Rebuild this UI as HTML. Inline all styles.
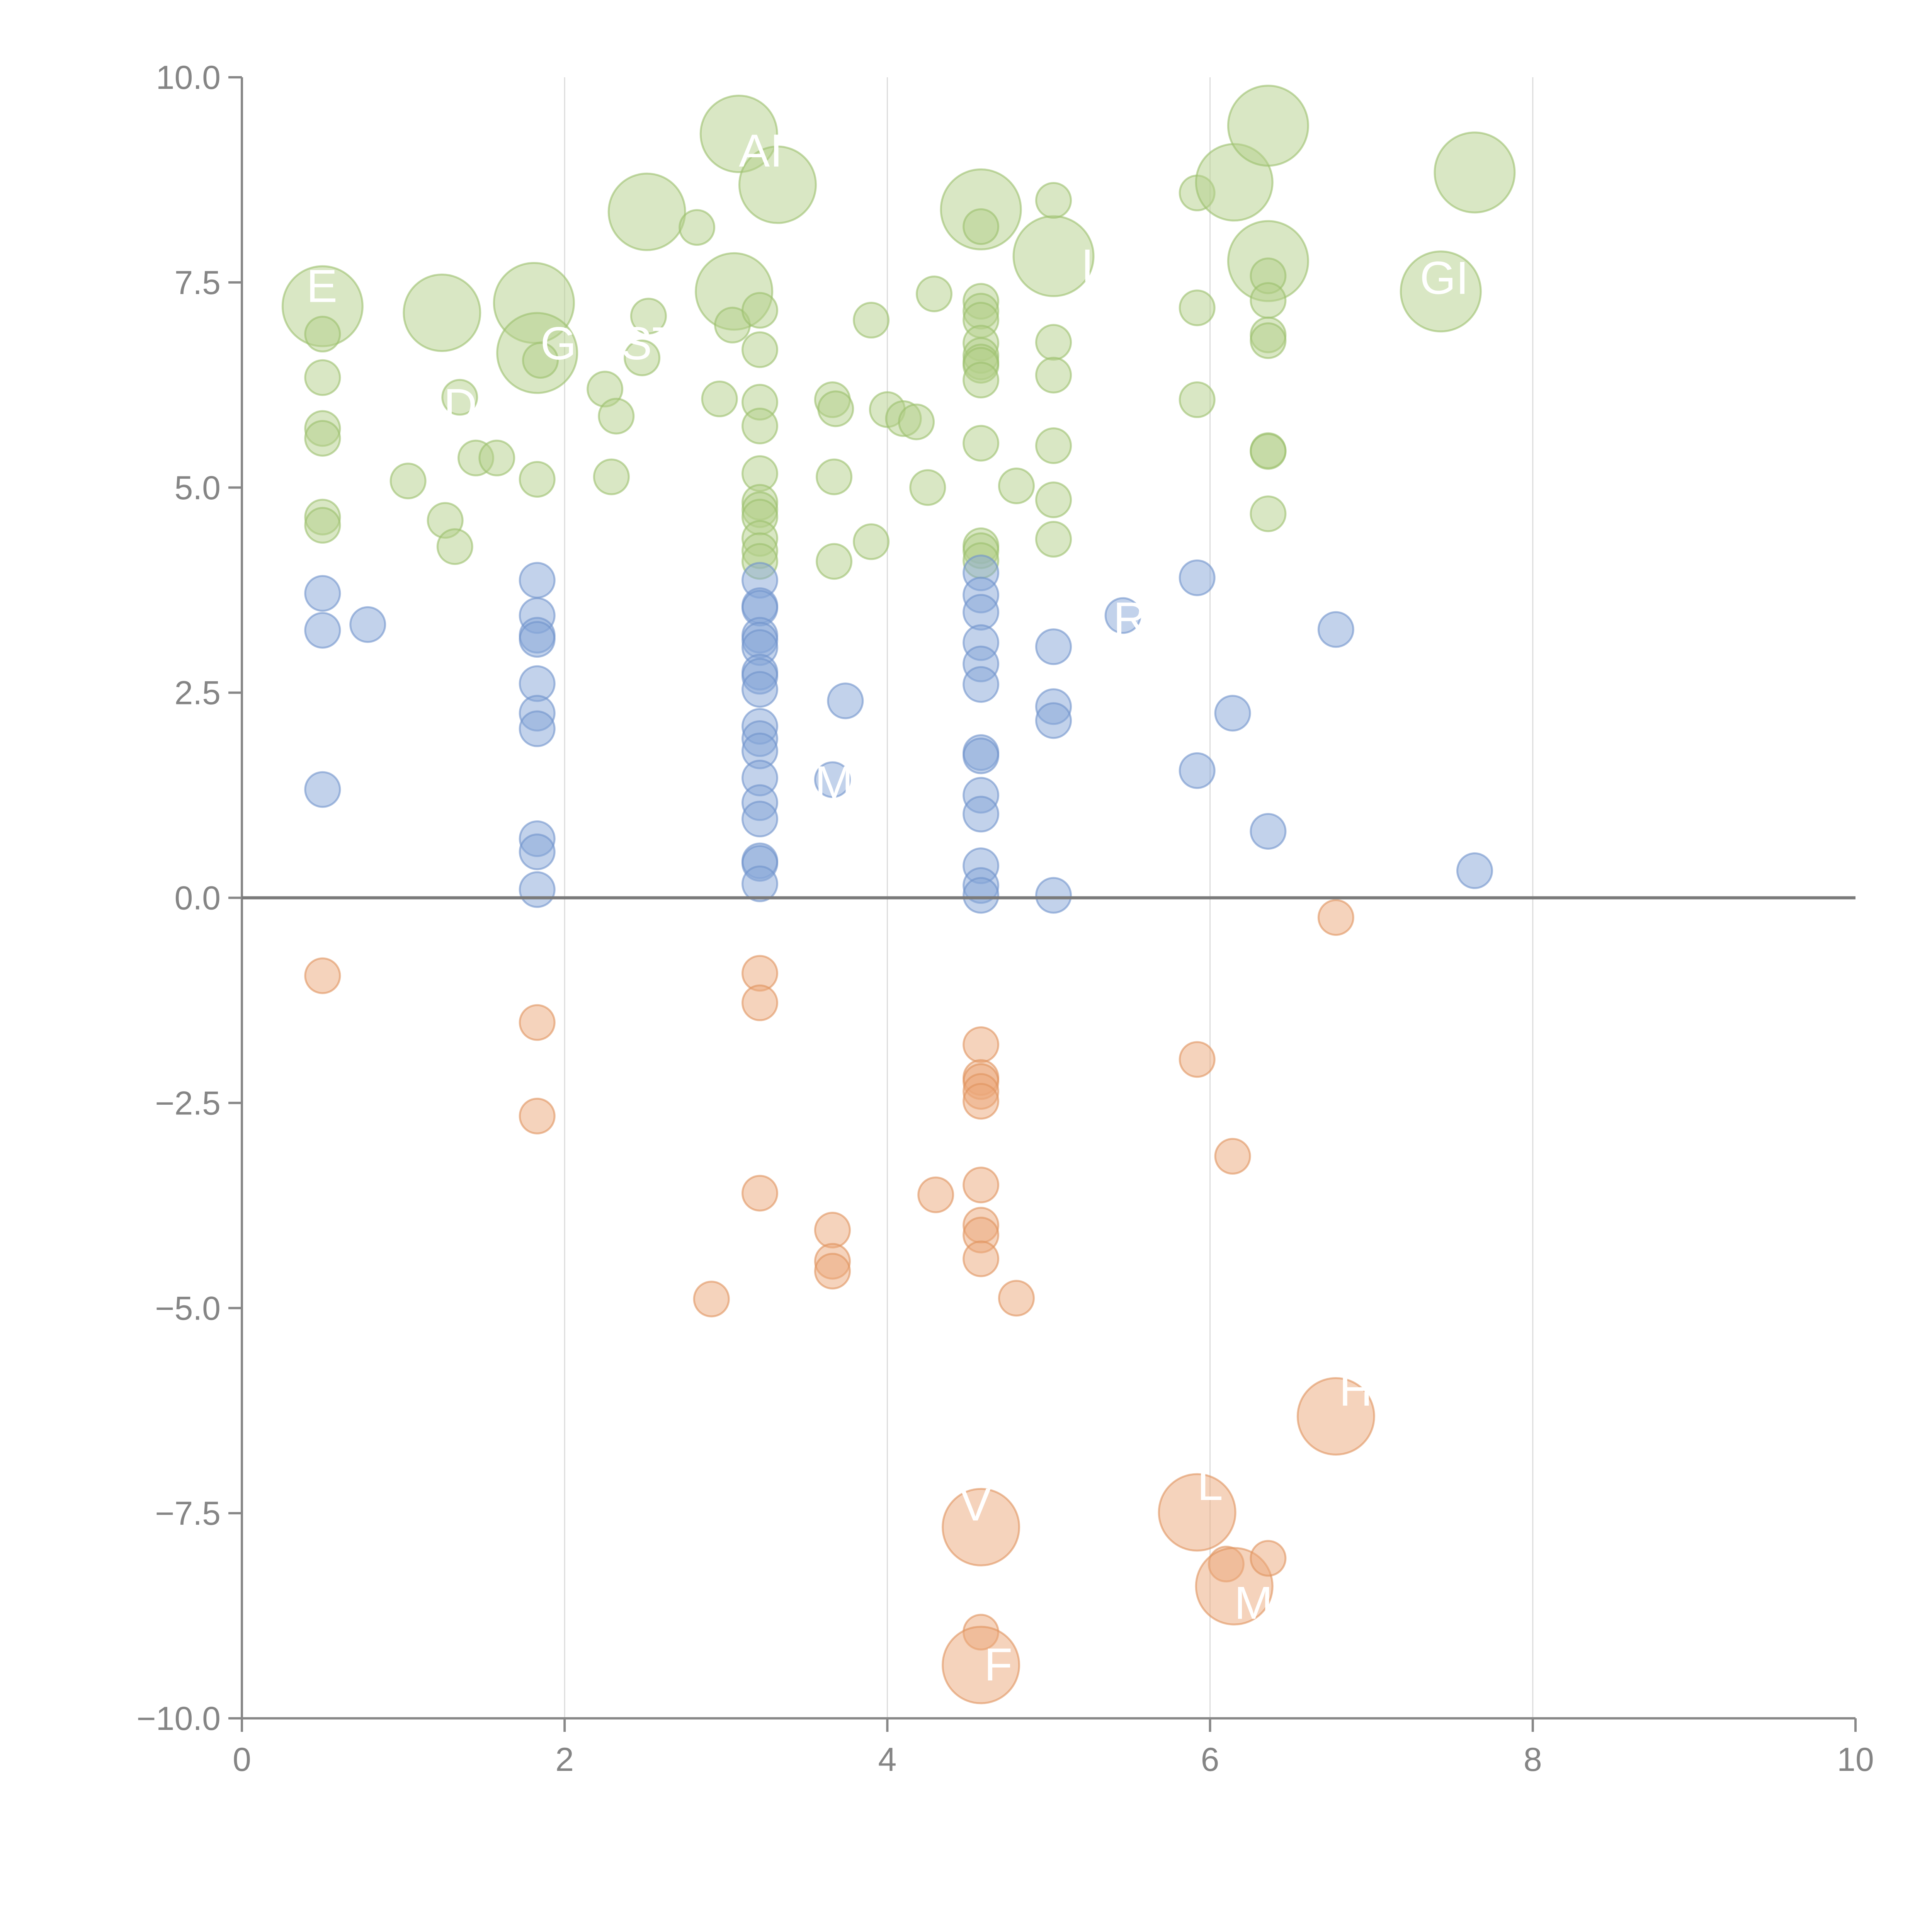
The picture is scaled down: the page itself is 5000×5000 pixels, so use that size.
<!DOCTYPE html>
<html><head><meta charset="utf-8"><style>
html,body{margin:0;padding:0;background:#fff;}
svg{display:block;font-family:"Liberation Sans",Arial,sans-serif;}
</style></head><body>
<svg id="chart" width="5000" height="5000" viewBox="0 0 5000 5000" xmlns="http://www.w3.org/2000/svg">
<g id="grid"></g>
<g id="bubbles"></g>
<g id="axes"></g>
<g id="labels"></g>
</svg>
<script>
const xTicks=[0,2,4,6,8,10];
const yTicks=[-10,-7.5,-5,-2.5,0,2.5,5,7.5,10];
const yTickLabels=["\u221210.0","\u22127.5","\u22125.0","\u22122.5","0.0","2.5","5.0","7.5","10.0"];

const greenX=[0.5,0.5,0.5,0.5,0.5,0.5,0.5,1.03,1.24,1.35,1.26,1.32,1.45,1.58,1.81,1.83,1.85,1.83,2.25,2.32,2.29,2.51,2.52,2.48,2.82,2.96,3.08,3.05,3.04,3.32,
3.21,3.21,3.21,3.21,3.21,3.21,3.21,3.21,3.21,3.21,3.21,3.66,3.68,3.67,3.67,3.9,3.9,4.0,4.1,4.18,4.25,4.29,
4.58,4.58,4.58,4.58,4.58,4.58,4.58,4.58,4.58,4.58,4.58,4.58,4.58,4.58,4.8,
5.03,5.03,5.03,5.03,5.03,5.03,5.03,5.92,5.92,5.92,6.15,6.36,6.36,6.36,6.36,6.36,6.36,6.36,6.36,6.36,7.43,7.64];
const greenY=[7.21,6.87,6.34,5.72,5.6,4.64,4.54,5.08,7.13,6.1,4.6,4.28,5.36,5.36,7.25,6.64,6.55,5.1,6.2,5.87,5.13,8.36,7.09,6.58,8.17,6.08,9.31,7.39,6.98,8.69,
7.16,6.68,6.04,5.75,5.17,4.82,4.73,4.64,4.38,4.23,4.1,6.07,5.96,5.13,4.1,7.04,4.34,5.95,5.84,5.8,5.0,7.36,
8.39,8.18,7.27,7.15,7.04,6.76,6.61,6.53,6.49,6.31,5.54,4.29,4.23,4.11,5.02,
7.82,8.5,6.77,6.37,5.51,4.85,4.37,8.59,7.19,6.07,8.72,9.41,7.76,7.58,7.28,6.86,6.79,5.45,5.44,4.68,7.39,8.84];
const greenS=[2.3,1,1,1,1,1,1,1,2.2,1,1,1,1,1,2.3,2.3,1,1,1,1,1,2.2,1,1,1,1,2.2,2.2,1,2.2,
1,1,1,1,1,1,1,1,1,1,1,1,1,1,1,1,1,1,1,1,1,1,
2.3,1,1,1,1,1,1,1,1,1,1,1,1,1,1,
2.3,1,1,1,1,1,1,1,1,1,2.2,2.3,2.3,1,1,1,1,1,1,1,2.3,2.3];

const blueX=[0.5,0.5,0.5,0.78,1.83,1.83,1.83,1.83,1.83,1.83,1.83,1.83,1.83,1.83,
3.21,3.21,3.21,3.21,3.21,3.21,3.21,3.21,3.21,3.21,3.21,3.21,3.21,3.21,3.21,3.21,3.21,3.21,3.66,3.74,
4.58,4.58,4.58,4.58,4.58,4.58,4.58,4.58,4.58,4.58,4.58,4.58,4.58,5.03,5.03,5.03,5.03,5.46,5.92,5.92,6.14,6.36,6.78,7.64];
const blueY=[3.71,3.26,1.32,3.33,3.87,3.44,3.2,3.15,2.61,2.25,2.06,0.72,0.56,0.1,
3.87,3.56,3.53,3.2,3.14,3.05,2.75,2.7,2.54,2.09,1.94,1.79,1.46,1.16,0.96,0.45,0.42,0.17,1.44,2.4,
3.96,3.69,3.48,3.11,2.85,2.6,1.77,1.73,1.25,1.02,0.39,0.15,0.03,3.06,2.33,2.16,0.03,3.44,3.9,1.55,2.25,0.81,3.27,0.33];

const orangeX=[0.5,1.83,1.83,2.91,3.21,3.21,3.21,3.66,3.66,3.66,4.3,
4.58,4.58,4.58,4.58,4.58,4.58,4.58,4.58,4.58,4.58,4.58,4.58,4.8,5.92,5.92,6.1,6.14,6.15,6.36,6.78,6.78];
const orangeY=[-0.95,-1.52,-2.66,-4.89,-0.92,-1.28,-3.6,-4.05,-4.43,-4.55,-3.62,
-1.79,-2.19,-2.24,-2.36,-2.48,-3.5,-3.99,-4.11,-4.4,-7.67,-8.95,-9.35,-4.88,-1.97,-7.49,-8.12,-3.15,-8.39,-8.05,-0.24,-6.32];
const orangeS=[1,1,1,1,1,1,1,1,1,1,1,1,1,1,1,1,1,1,1,1,2.2,1,2.2,1,1,2.2,1,1,2.2,1,1,2.2];

const X0=626,X1=4802,YT=200,YB=4447;
function sx(v){return X0+(v-0)/(10-0)*(X1-X0);}
function sy(v){return YB-(v+10)/20*(YB-YT);}
const NS="http://www.w3.org/2000/svg";
function mk(tag,attrs,parent){const e=document.createElementNS(NS,tag);for(const k in attrs)e.setAttribute(k,attrs[k]);parent.appendChild(e);return e;}

const grid=document.getElementById('grid');
xTicks.forEach(t=>{if(t===0||t===10)return;
 const l=mk('line',{x1:sx(t),x2:sx(t),y1:YT,y2:YB,stroke:'#dcdcdc','stroke-width':3},grid);
 
 
});

const bub=document.getElementById('bubbles');
function drawSeries(xs,ys,ss,fill,stroke,name){
 xs.forEach((x,i)=>{
  const s=ss?ss[i]:1;
  const c=mk('circle',{cx:sx(x),cy:sy(ys[i]),r:45*s,fill:fill,'fill-opacity':0.5,stroke:stroke,'stroke-opacity':0.6,'stroke-width':5},bub);
  
  
 });
}
drawSeries(greenX,greenY,greenS,'#b3cf8a','#9bbf6c','bubble-green');
drawSeries(blueX,blueY,null,'#85a6d8','#6f93cc','bubble-blue');
drawSeries(orangeX,orangeY,orangeS,'#eba77a','#e0925e','bubble-orange');

const ax=document.getElementById('axes');
let e;
e=mk('line',{x1:X0,x2:X0,y1:YT,y2:YB,stroke:'#888','stroke-width':6},ax);


e=mk('line',{x1:X0,x2:X1,y1:YB,y2:YB,stroke:'#888','stroke-width':6},ax);


e=mk('line',{x1:X0,x2:X1,y1:sy(0),y2:sy(0),stroke:'#7a7a7a','stroke-width':8},ax);


yTicks.forEach((t,i)=>{
 const y=sy(t);
 const tk=mk('line',{x1:X0-35,x2:X0,y1:y,y2:y,stroke:'#888','stroke-width':6},ax);
 
 
 const tx=mk('text',{x:X0-55,y:y+30,'text-anchor':'end','font-size':86,fill:'#858585'},ax);
 tx.textContent=yTickLabels[i];
 
 
});
xTicks.forEach(t=>{
 const x=sx(t);
 const tk=mk('line',{x1:x,x2:x,y1:YB,y2:YB+35,stroke:'#888','stroke-width':6},ax);
 
 
 const tx=mk('text',{x:x,y:YB+136,'text-anchor':'middle','font-size':86,fill:'#858585'},ax);
 tx.textContent=String(t);
 
 
});

const labelText=["AI","E","G","ST","D","GI","MI","R","F","M","L","V","I","H"];
const labelX=[3.08,0.4,1.85,2.35,1.25,7.3,3.55,5.4,4.6,6.15,5.92,4.45,5.2,6.8];
const labelY=[9.1,7.45,6.75,6.75,6.0,7.55,1.4,3.4,-9.35,-8.6,-7.15,-7.4,7.7,-6.0];
const lab=document.getElementById('labels');
labelText.forEach((t,i)=>{
 const tx=mk('text',{x:sx(labelX[i]),y:sy(labelY[i])+40,'font-size':120,fill:'#fff'},lab);
 tx.textContent=t;
 
 
});
</script>
</body></html>
